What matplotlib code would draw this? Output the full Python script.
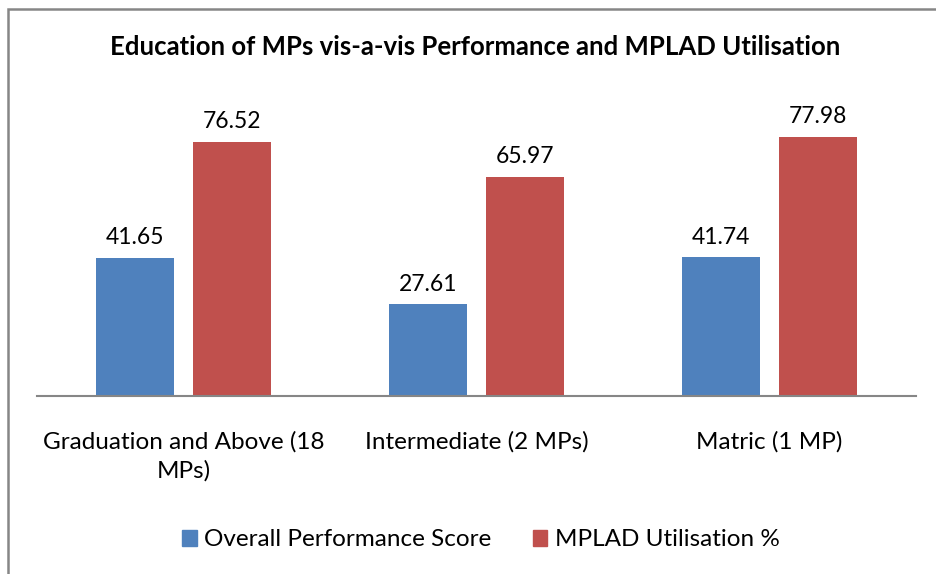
import matplotlib
matplotlib.use("Agg")

import matplotlib.pyplot as plt
import numpy as np
from matplotlib.patches import Rectangle, Patch

plt.rcParams["font.family"] = ["Lato", "DejaVu Sans"]

categories = ["Graduation and Above (18\nMPs)", "Intermediate (2 MPs)", "Matric (1 MP)"]
performance = [41.65, 27.61, 41.74]
mplad = [76.52, 65.97, 77.98]
series_names = ["Overall Performance Score", "MPLAD Utilisation %"]
title = "Education of MPs vis-a-vis Performance and MPLAD Utilisation"

BLUE = "#4F81BD"
RED = "#C0504D"

fig = plt.figure(figsize=(9.36, 5.74), dpi=100)
ax = fig.add_axes([37 / 936, 1 - 396 / 574, 879 / 936, 299 / 574])

x = np.arange(len(categories))
w = 0.266
off = 0.1655
b1 = ax.bar(x - off, performance, w, color=BLUE)
b2 = ax.bar(x + off, mplad, w, color=RED)

for bars, vals in [(b1, performance), (b2, mplad)]:
    for rect, v in zip(bars, vals):
        ax.text(rect.get_x() + rect.get_width() / 2, v + 6, f"{v:.2f}",
                ha="center", va="center", fontsize=16.5, color="black")

ax.set_xlim(-0.5, 2.5)
ax.set_ylim(0, 90)
ax.set_yticks([])
ax.set_xticks(x)
ax.set_xticklabels(categories, fontsize=17.5, linespacing=1.45)
ax.tick_params(axis="x", length=0, pad=25)
for s in ["top", "right", "left"]:
    ax.spines[s].set_visible(False)
ax.spines["bottom"].set_color("#868686")
ax.spines["bottom"].set_linewidth(1.5)

fig.text(475 / 936, 1 - 47 / 574, title, ha="center", va="center",
         fontsize=18.5, fontweight="bold")

handles = [Patch(color=BLUE), Patch(color=RED)]
fig.legend(handles, series_names, loc="center", bbox_to_anchor=(481 / 936, 1 - 540 / 574),
           ncol=2, frameon=False, fontsize=17.5, handlelength=0.6, handleheight=0.6,
           handletextpad=0.3, columnspacing=1.7)

# chart border (right and bottom edges fall outside the crop)
fig.patches.append(Rectangle((8 / 936, -0.1), 1.2, 1.1 - 9 / 574,
                             transform=fig.transFigure, fill=False,
                             edgecolor="#868686", linewidth=1.8))

fig.savefig("out.png", dpi=100)
